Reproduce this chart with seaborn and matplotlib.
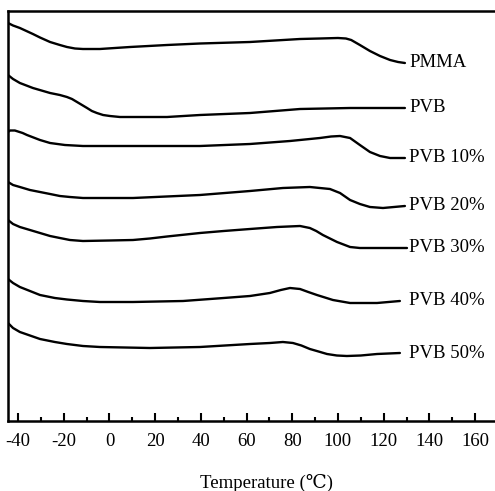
import numpy as np
import pandas as pd
import matplotlib
matplotlib.use("Agg")
import matplotlib.pyplot as plt
from matplotlib.ticker import FixedLocator
import seaborn as sns

# DSC traces (heat flow, arbitrary units, vertically offset) vs temperature
samples = ["PMMA", "PVB", "PVB 10%", "PVB 20%", "PVB 30%", "PVB 40%", "PVB 50%"]

temp_pmma = [-44.4, -42.2, -39.2, -33.5, -30.4, -26.0, -21.7, -18.6, -15.1, -11.6, -4.2, 9.0, 25.2,
             39.6, 61.5, 83.4, 92.1, 100.0, 103.5, 105.8, 109.6, 114.0, 118.4, 122.8, 126.3, 129.3]
flow_pmma = [398, 395.5, 393, 387, 383.5, 379, 376, 374, 372.5, 372, 372, 374, 376,
             377.5, 379, 382, 382.5, 383, 382.5, 381, 376, 370, 365, 361, 359, 358]

temp_pvb = [-44.4, -42.2, -39.2, -33.5, -26.0, -21.7, -18.6, -16.4, -14.2, -12.0, -9.8, -7.7,
            -5.5, -2.8, 0.2, 4.6, 9.0, 25.2, 39.6, 61.5, 83.4, 105.3, 129.3]
flow_pvb = [346, 342, 338, 333, 328, 326, 324, 322, 319, 316, 313, 310,
            308, 306, 305, 304, 304, 304, 306, 308, 312, 313, 313]

temp_10 = [-44.4, -43.5, -41.4, -38.0, -36.1, -30.4, -26.0, -19.5, -11.6, 10.3, 39.6, 61.5,
           79.0, 92.1, 97.0, 100.9, 105.3, 109.6, 114.0, 118.4, 122.8, 129.3]
flow_10 = [289, 290.5, 290.5, 288, 286, 281, 278, 276, 275, 275, 275, 277,
           280, 283, 284.5, 285, 283, 276, 269, 265, 263, 263]

temp_20 = [-44.4, -42.2, -39.2, -34.8, -30.4, -26.0, -21.7, -17.3, -11.6, 10.3, 39.6, 61.5,
           75.9, 87.7, 96.5, 100.9, 105.3, 109.6, 114.0, 119.7, 129.3]
flow_20 = [239, 236, 234, 231, 229, 227, 225, 224, 223, 223, 226, 230,
           233, 234, 232, 228, 221, 217, 214, 213, 215]

temp_30 = [-44.4, -42.2, -39.2, -34.8, -30.4, -26.0, -21.7, -17.3, -11.6, 0.0, 10.3, 17.7, 25.2,
           39.6, 50.0, 61.5, 73.3, 83.4, 87.7, 90.5, 93.4, 99.6, 105.3, 109.6, 130.2]
flow_30 = [201, 197, 194, 191, 188, 185, 183, 181, 180, 180.5, 181, 182.5, 184.5,
           188, 190, 192, 194, 195, 193, 190, 186, 179, 174, 173, 173]

temp_40 = [-44.4, -42.2, -39.2, -34.8, -30.4, -23.9, -18.6, -11.6, -4.2, 10.3, 32.2, 50.0,
           61.5, 70.2, 75.0, 79.0, 83.4, 87.0, 90.8, 97.8, 105.3, 117.1, 127.1]
flow_40 = [142, 138, 134, 130, 126, 123, 121.5, 120, 119, 119, 120, 123,
           125, 128, 131, 133, 132, 129, 126, 121, 118, 118, 120]

temp_50 = [-44.4, -42.2, -39.2, -34.8, -30.4, -23.9, -18.6, -11.6, -4.2, 17.7, 39.6, 61.5,
           70.2, 75.9, 80.3, 84.0, 87.7, 91.5, 95.2, 99.5, 103.9, 110.0, 117.1, 127.1]
flow_50 = [98, 93, 89, 85.5, 82, 79, 77, 75, 74, 73, 74, 77,
           78, 79, 78, 75.5, 72, 69.5, 67, 65.5, 65, 65.5, 67, 68]

temps = [temp_pmma, temp_pvb, temp_10, temp_20, temp_30, temp_40, temp_50]
flows = [flow_pmma, flow_pvb, flow_10, flow_20, flow_30, flow_40, flow_50]

major_ticks = [-40, -20, 0, 20, 40, 60, 80, 100, 120, 140, 160]
minor_ticks = [-30, -10, 10, 30, 50, 70, 90, 110, 130, 150]
tick_labels = ["-40", "-20", "0", "20", "40", "60", "80", "100", "120", "140", "160"]
x_label = "Temperature (\u2103)"

frames = []
for name, t, f in zip(samples, temps, flows):
    frames.append(pd.DataFrame({"sample": name, "T": t, "flow": f}))
df = pd.concat(frames, ignore_index=True)

sns.set_theme(style="white")
serif = ["Liberation Serif", "DejaVu Serif", "DejaVu Sans"]
plt.rcParams["font.family"] = serif
plt.rcParams["axes.unicode_minus"] = False

W, H = 495, 491
fig = plt.figure(figsize=(W / 100, H / 100), dpi=100)
ax = fig.add_axes([8 / W, 1 - 421 / H, 492 / W, 410 / H])

sns.lineplot(data=df, x="T", y="flow", hue="sample", units="sample",
             estimator=None, sort=False, palette={s: "black" for s in samples},
             linewidth=1.7, legend=False, ax=ax)
for line in ax.get_lines():
    line.set_solid_joinstyle("round")
    line.set_solid_capstyle("round")

px_per_deg = 2.285
x_left = -44.4
ax.set_xlim(x_left, x_left + 492 / px_per_deg)
ax.set_ylim(0, 410)

for name, t, f in zip(samples, temps, flows):
    ax.text(131.3, f[-1], name, ha="left", va="center", fontsize=13.5,
            family=serif, color="black")

ax.xaxis.set_major_locator(FixedLocator(major_ticks))
ax.set_xticklabels(tick_labels)
ax.xaxis.set_minor_locator(FixedLocator(minor_ticks))
ax.tick_params(axis="x", which="major", direction="in", length=6, width=1.5,
               labelsize=13.5, pad=9, colors="black", bottom=True)
ax.tick_params(axis="x", which="minor", direction="in", length=3, width=1.5,
               colors="black", bottom=True)
ax.tick_params(axis="y", left=False, labelleft=False)
ax.set_xlabel("")
ax.set_ylabel("")

for side in ["left", "bottom", "top"]:
    ax.spines[side].set_visible(True)
    ax.spines[side].set_color("black")
    ax.spines[side].set_linewidth(1.8)
ax.spines["right"].set_visible(False)

fig.text(267 / W, 1 - 483 / H, x_label, ha="center", va="center",
         fontsize=13.5, family=serif, color="black")

fig.savefig("out.png", dpi=100, facecolor="white")
